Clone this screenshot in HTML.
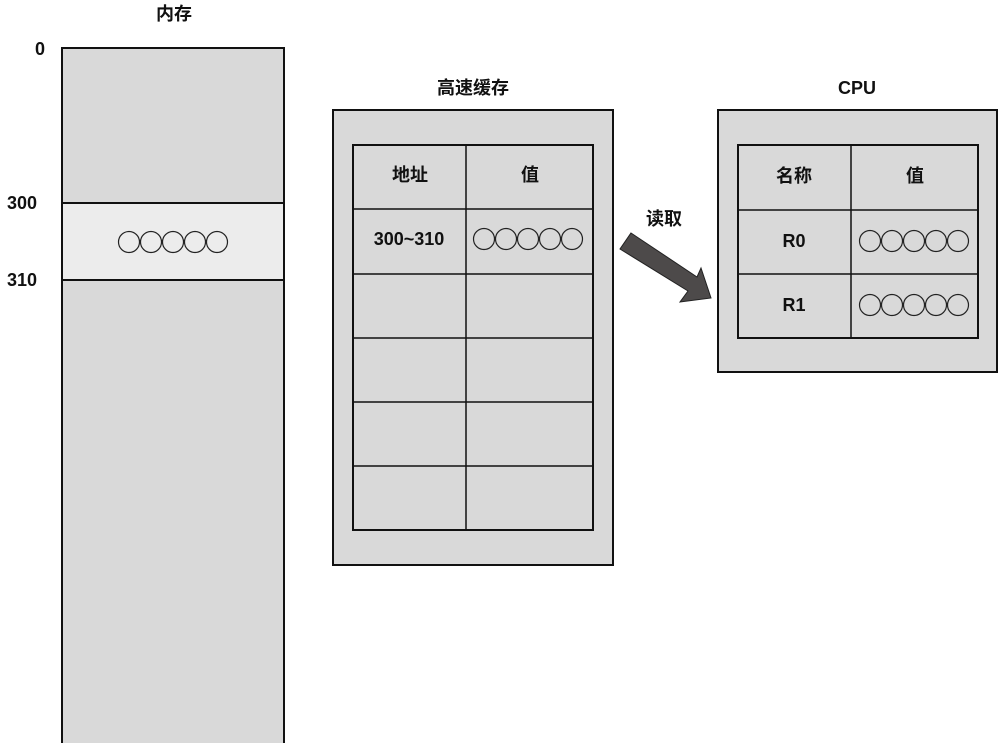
<!DOCTYPE html>
<html><head><meta charset="utf-8"><style>
body{margin:0;background:#fff}
svg text{font-family:"Liberation Sans","Noto Sans CJK SC",sans-serif;font-size:18px;font-weight:bold;fill:#111;text-anchor:middle}
</style></head><body>
<svg width="998" height="743" xmlns="http://www.w3.org/2000/svg">
<defs>
<g id="c5" fill="none" stroke="#222" stroke-width="1.2">
<circle cx="11" cy="0" r="10.5"/><circle cx="33" cy="0" r="10.5"/><circle cx="55" cy="0" r="10.5"/><circle cx="77" cy="0" r="10.5"/><circle cx="99" cy="0" r="10.5"/>
</g>
</defs>
<text x="174" y="20">内存</text>
<text x="40" y="55" text-anchor="end">0</text>
<text x="22" y="209">300</text>
<text x="22" y="286">310</text>
<rect x="62" y="48" width="222" height="710" fill="#d9d9d9" stroke="#111" stroke-width="2"/>
<rect x="63" y="203" width="220" height="77" fill="#ececec"/>
<line x1="62" y1="203" x2="284" y2="203" stroke="#111" stroke-width="2"/>
<line x1="62" y1="280" x2="284" y2="280" stroke="#111" stroke-width="2"/>
<use href="#c5" x="118" y="242"/>

<text x="473" y="94">高速缓存</text>
<rect x="333" y="110" width="280" height="455" fill="#d9d9d9" stroke="#111" stroke-width="2"/>
<rect x="353" y="145" width="240" height="385" fill="#d9d9d9" stroke="#111" stroke-width="2"/>
<g stroke="#111" stroke-width="1.5">
<line x1="466" y1="145" x2="466" y2="530"/>
<line x1="353" y1="209" x2="593" y2="209"/>
<line x1="353" y1="274" x2="593" y2="274"/>
<line x1="353" y1="338" x2="593" y2="338"/>
<line x1="353" y1="402" x2="593" y2="402"/>
<line x1="353" y1="466" x2="593" y2="466"/>
</g>
<text x="410" y="181">地址</text>
<text x="530" y="181">值</text>
<text x="409" y="245">300~310</text>
<use href="#c5" x="473" y="239"/>

<text x="664" y="225">读取</text>
<polygon points="631,233 697,277 701,268 711,298 680,302 688,291 620,249" fill="#4d4a4a" stroke="#222" stroke-width="1"/>

<text x="857" y="94">CPU</text>
<rect x="718" y="110" width="279" height="262" fill="#d9d9d9" stroke="#111" stroke-width="2"/>
<rect x="738" y="145" width="240" height="193" fill="#d9d9d9" stroke="#111" stroke-width="2"/>
<g stroke="#111" stroke-width="1.5">
<line x1="851" y1="145" x2="851" y2="338"/>
<line x1="738" y1="210" x2="978" y2="210"/>
<line x1="738" y1="274" x2="978" y2="274"/>
</g>
<text x="794" y="182">名称</text>
<text x="915" y="182">值</text>
<text x="794" y="247">R0</text>
<text x="794" y="311">R1</text>
<use href="#c5" x="859" y="241"/>
<use href="#c5" x="859" y="305"/>
</svg>
</body></html>
